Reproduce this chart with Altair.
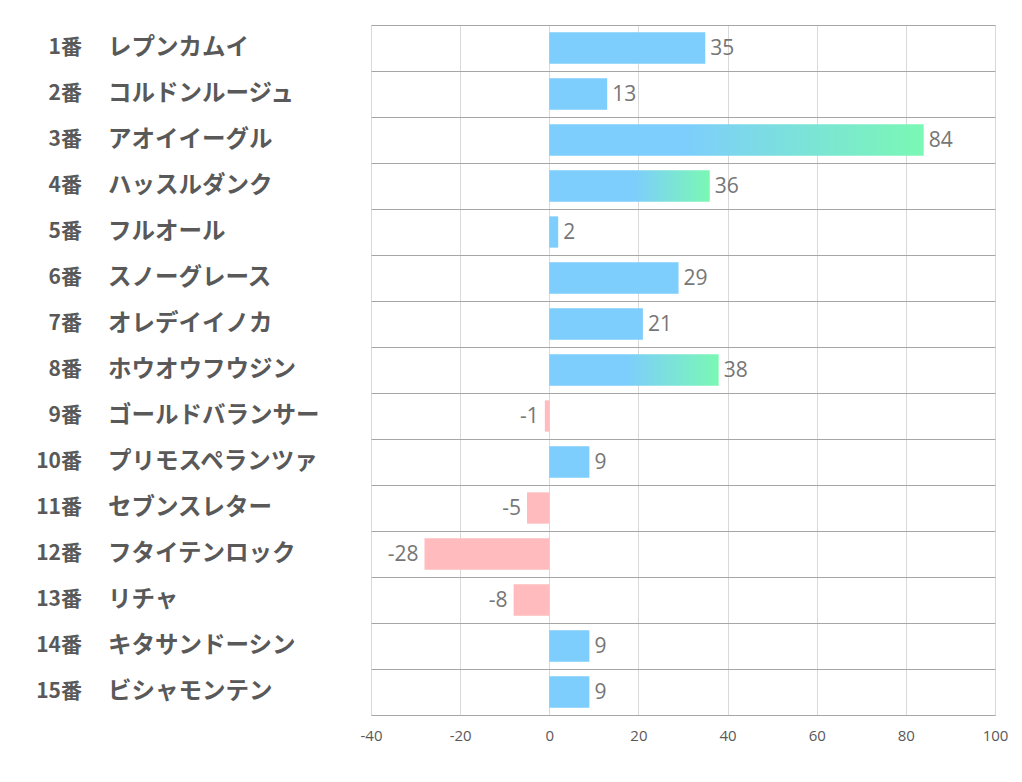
import altair as alt
import pandas as pd

nums = ["1番", "2番", "3番", "4番", "5番", "6番", "7番", "8番", "9番", "10番",
        "11番", "12番", "13番", "14番", "15番"]
names = ["レプンカムイ", "コルドンルージュ", "アオイイーグル", "ハッスルダンク", "フルオール",
         "スノーグレース", "オレデイイノカ", "ホウオウフウジン", "ゴールドバランサー",
         "プリモスペランツァ", "セブンスレター", "フタイテンロック", "リチャ",
         "キタサンドーシン", "ビシャモンテン"]
values = [35, 13, 84, 36, 2, 29, 21, 38, -1, 9, -5, -28, -8, 9, 9]
gradient_bars = {"アオイイーグル": 0.35, "ハッスルダンク": 0.52, "ホウオウフウジン": 0.45}
x_ticks = [-40, -20, 0, 20, 40, 60, 80, 100]

BLUE = "#7dcdfd"
GREEN = "#7af8b4"
PINK = "#ffbbbe"
TXT = "#595959"

df = pd.DataFrame({"num": nums, "name": names, "value": values})
df["key"] = df["num"] + " " + df["name"]
df["label"] = [str(v) for v in values]
df["kind"] = ["neg" if v < 0 else ("grad" if n in gradient_bars else "pos")
              for n, v in zip(names, values)]
order = list(df["key"])

x = alt.X("value:Q", scale=alt.Scale(domain=[-40, 100], nice=False, zero=False),
          axis=alt.Axis(values=x_ticks, title=None, ticks=False, labelFontSize=15,
                        labelColor=TXT, labelFont="Open Sans", labelPadding=13,
                        grid=True, gridColor="#d9d9d9", domainColor="#a6a6a6",
                        labelFlush=False, labelExpr="toString(datum.value)"))
y = alt.Y("key:N", sort=order, scale=alt.Scale(paddingInner=0, paddingOuter=0),
          axis=alt.Axis(labels=False, ticks=False, domain=False, title=None, grid=True,
                        gridColor="#a6a6a6", bandPosition=0))

base = alt.Chart(df)
BH = {"band": 0.68}

bars_pos = base.transform_filter("datum.kind == 'pos'").mark_bar(color=BLUE, height=BH).encode(
    x=x, x2=alt.datum(0), y=y)
bars_neg = base.transform_filter("datum.kind == 'neg'").mark_bar(color=PINK, height=BH).encode(
    x=x, x2=alt.datum(0), y=y)

grad_layers = []
for nm, off in gradient_bars.items():
    g = alt.Gradient(gradient="linear",
                     stops=[alt.GradientStop(offset=0, color=BLUE),
                            alt.GradientStop(offset=off, color=BLUE),
                            alt.GradientStop(offset=1, color=GREEN)],
                     x1=0, x2=1, y1=0, y2=0)
    grad_layers.append(
        base.transform_filter(f"datum.name == '{nm}'").mark_bar(color=g, height=BH).encode(
            x=x, x2=alt.datum(0), y=y)
    )

lab_pos = base.transform_filter("datum.value >= 0").mark_text(
    align="left", baseline="middle", dx=5, dy=1, fontSize=21, color="#767676", font="Open Sans"
).encode(x=x, y=y, text="label:N")
lab_neg = base.transform_filter("datum.value < 0").mark_text(
    align="right", baseline="middle", dx=-6, dy=1, fontSize=21, color="#767676", font="Open Sans"
).encode(x=x, y=y, text="label:N")

num_text = base.mark_text(align="right", baseline="middle", fontSize=21, fontWeight="bold",
                          color=TXT, font="Noto Sans CJK JP").encode(
    x=alt.value(-289), y=y, text="num:N")
name_text = base.mark_text(align="left", baseline="middle", fontSize=23.5, fontWeight="bold",
                           color=TXT, font="Noto Sans CJK JP").encode(
    x=alt.value(-263), y=y, text="name:N")

chart = alt.layer(bars_pos, bars_neg, *grad_layers, lab_pos, lab_neg, num_text, name_text).properties(
    width=624, height=690,
    autosize=alt.AutoSizeParams(type="none"),
    padding={"left": 363, "top": 17, "right": 19, "bottom": 59},
).configure_view(stroke=None).configure(background="white")

chart.save("out.html", embed_options={"renderer": "svg", "actions": False})
